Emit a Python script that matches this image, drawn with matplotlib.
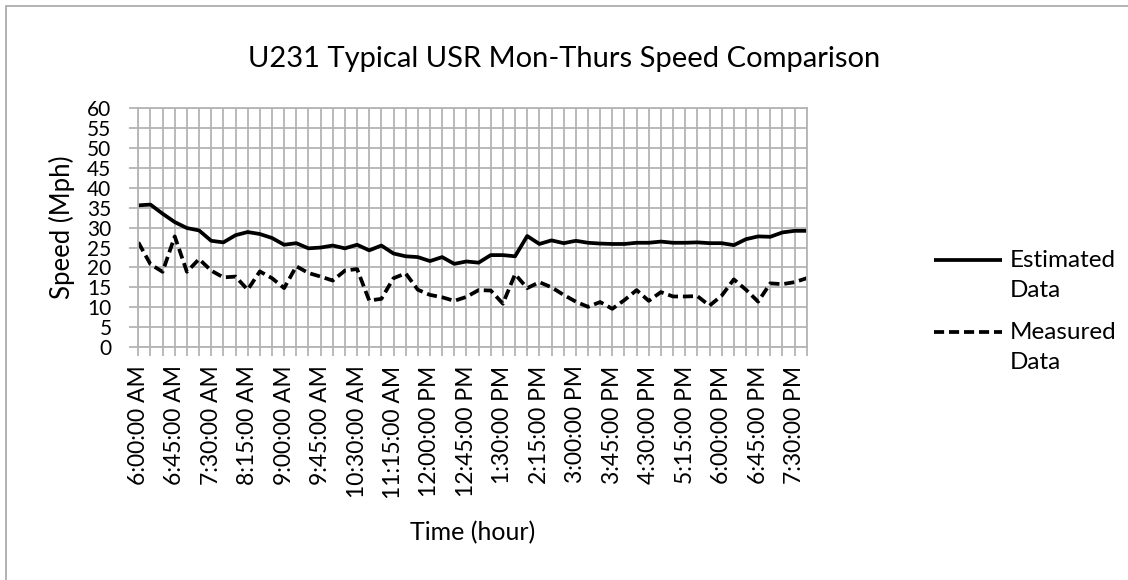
import numpy as np
from matplotlib import pyplot as plt
from matplotlib.patches import Rectangle
from matplotlib.legend_handler import HandlerLine2D

plt.rcParams["font.family"] = ["Lato", "DejaVu Sans"]

times = [
    "6:00:00 AM", "6:15:00 AM", "6:30:00 AM", "6:45:00 AM", "7:00:00 AM", "7:15:00 AM", "7:30:00 AM",
    "7:45:00 AM", "8:00:00 AM", "8:15:00 AM", "8:30:00 AM", "8:45:00 AM", "9:00:00 AM", "9:15:00 AM",
    "9:30:00 AM", "9:45:00 AM", "10:00:00 AM", "10:15:00 AM", "10:30:00 AM", "10:45:00 AM", "11:00:00 AM",
    "11:15:00 AM", "11:30:00 AM", "11:45:00 AM", "12:00:00 PM", "12:15:00 PM", "12:30:00 PM", "12:45:00 PM",
    "1:00:00 PM", "1:15:00 PM", "1:30:00 PM", "1:45:00 PM", "2:00:00 PM", "2:15:00 PM", "2:30:00 PM",
    "2:45:00 PM", "3:00:00 PM", "3:15:00 PM", "3:30:00 PM", "3:45:00 PM", "4:00:00 PM", "4:15:00 PM",
    "4:30:00 PM", "4:45:00 PM", "5:00:00 PM", "5:15:00 PM", "5:30:00 PM", "5:45:00 PM", "6:00:00 PM",
    "6:15:00 PM", "6:30:00 PM", "6:45:00 PM", "7:00:00 PM", "7:15:00 PM", "7:30:00 PM", "7:45:00 PM",
]

estimated = [
    35.6, 35.8, 33.5, 31.4, 29.9, 29.3, 26.7, 26.3, 28.1, 28.9,
    28.4, 27.4, 25.7, 26.1, 24.8, 25.0, 25.5, 24.8, 25.7, 24.3,
    25.5, 23.5, 22.8, 22.6, 21.6, 22.6, 20.9, 21.5, 21.2, 23.1,
    23.1, 22.8, 27.9, 25.9, 26.8, 26.1, 26.7, 26.2, 26.0, 25.9,
    25.9, 26.2, 26.2, 26.5, 26.2, 26.2, 26.3, 26.1, 26.1, 25.6,
    27.1, 27.8, 27.7, 28.8, 29.2, 29.2,
]

measured = [
    26.3, 20.8, 18.9, 27.8, 18.9, 22.1, 19.2, 17.5, 17.7, 14.4,
    19.0, 17.3, 14.8, 20.3, 18.6, 17.7, 16.7, 19.2, 19.6, 11.7,
    12.1, 17.3, 18.5, 14.4, 13.1, 12.5, 11.6, 12.6, 14.3, 14.2,
    10.9, 18.3, 14.8, 16.3, 15.0, 13.1, 11.4, 10.1, 11.3, 9.6,
    11.8, 14.3, 11.6, 13.8, 12.7, 12.7, 12.8, 10.4, 12.9, 17.0,
    14.4, 11.4, 16.0, 15.8, 16.3, 17.3,
]

label_step = 3
grid_col = "#b4b4b4"


class FirstLineHandler(HandlerLine2D):
    # put the legend line next to the first line of a two-line label
    def create_artists(self, legend, orig_handle, xdescent, ydescent, width, height, fontsize, trans):
        arts = super().create_artists(legend, orig_handle, xdescent, ydescent, width, height, fontsize, trans)
        for a in arts:
            a.set_ydata(np.asarray(a.get_ydata()) + 11.5)
        return arts


fig = plt.figure(figsize=(11.28, 5.8), dpi=100)
ax = fig.add_axes([0.1226, 0.4017, 0.7152 - 0.1226, 0.8133 - 0.4017])

x = np.arange(len(times))
est_line, = ax.plot(x, estimated, color="black", lw=2.7, label="Estimated\nData", solid_capstyle="butt")
mea_line, = ax.plot(x, measured, color="black", lw=2.7, linestyle=(0, (2.7, 1.3)), label="Measured\nData")

ax.set_xlim(0, len(times) - 1)
ax.set_ylim(0, 60)
ax.set_yticks(range(0, 61, 5))
ax.set_xticks(x)
ax.set_xticklabels([t if i % label_step == 0 else "" for i, t in enumerate(times)], rotation=90)

ax.grid(True, color=grid_col, lw=1.3)
ax.set_axisbelow(True)
for s in ax.spines.values():
    s.set_color(grid_col)
    s.set_linewidth(1.3)
ax.tick_params(axis="both", color=grid_col, width=1.3, length=6.3)
ax.tick_params(axis="y", pad=13, labelsize=15)
ax.tick_params(axis="x", pad=7, labelsize=16.5)

ax.set_ylabel("Speed (Mph)", fontsize=18.5)
ax.yaxis.set_label_coords(-0.0947, 0.5)
ax.set_xlabel("Time (hour)", fontsize=18)
ax.xaxis.set_label_coords(0.5, -0.729)
fig.suptitle("U231 Typical USR Mon-Thurs Speed Comparison", fontsize=21, y=0.92)

leg = fig.legend(handles=[est_line, mea_line], loc="upper left", bbox_to_anchor=(0.828, 0.569),
                 frameon=False, fontsize=17.5, borderpad=0, borderaxespad=0,
                 handlelength=2.8, handletextpad=0.3, labelspacing=0.85,
                 handler_map={est_line: FirstLineHandler(), mea_line: FirstLineHandler()})
for t in leg.get_texts():
    t.set_linespacing(1.55)

# chart area border
fig.patches.append(Rectangle((6 / 1128, -0.05), 1.1, 1.05 - 6 / 580, transform=fig.transFigure,
                             fill=False, edgecolor="#a6a6a6", lw=1.2))

plt.savefig("out.png", dpi=100)
